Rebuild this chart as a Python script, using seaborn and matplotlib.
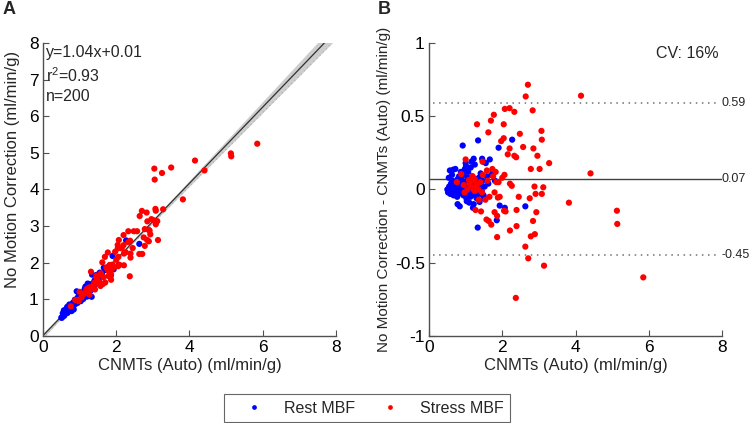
import numpy as np
import pandas as pd
import matplotlib
matplotlib.use("Agg")
import matplotlib.pyplot as plt
import seaborn as sns
from matplotlib.lines import Line2D

# ---------------- data ----------------
rest_auto = [0.50, 0.52, 0.55, 0.57, 0.58, 0.60, 0.62, 0.64, 0.66, 0.67,
             0.68, 0.70, 0.72, 0.72, 0.74, 0.75, 0.77, 0.78, 0.78, 0.80,
             0.81, 0.82, 0.84, 0.85, 0.86, 0.88, 0.89, 0.90, 0.92, 0.92,
             0.94, 0.95, 0.96, 0.98, 0.98, 1.00, 1.00, 1.01, 1.02, 1.03,
             1.04, 1.05, 1.06, 1.08, 1.10, 1.10, 1.12, 1.13, 1.15, 1.16,
             1.17, 1.18, 1.20, 1.20, 1.22, 1.22, 1.23, 1.25, 1.25, 1.26,
             1.28, 1.29, 1.30, 1.31, 1.33, 1.33, 1.34, 1.35, 1.36, 1.37,
             1.38, 1.39, 1.40, 1.41, 1.42, 1.44, 1.45, 1.46, 1.48, 1.49,
             1.50, 1.52, 1.55, 1.58, 1.62, 1.66, 1.70, 1.75, 1.80, 1.85,
             1.90, 1.93, 2.07, 2.27, 2.63, 0.54, 0.63, 0.87, 1.07, 1.14]
rest_diff = [0.00, -0.02, 0.02, 0.13, -0.03, 0.04, -0.01, 0.06, 0.135, -0.04,
             0.01, 0.03, 0.14, -0.02, 0.05, 0.00, -0.05, -0.10, 0.07, 0.02,
             -0.03, 0.09, -0.115, 0.04, 0.00, 0.08, -0.01, 0.06, 0.30, 0.02,
             -0.04, 0.10, 0.03, 0.14, -0.02, 0.18, 0.05, 0.16, -0.06, -0.08,
             0.01, 0.08, -0.03, 0.04, -0.09, 0.00, 0.06, -0.05, 0.02, 0.19,
             -0.02, 0.09, -0.125, 0.03, 0.21, -0.10, 0.00, 0.17, 0.05, -0.04,
             0.07, 0.01, -0.06, 0.04, -0.26, 0.02, 0.335, -0.02, 0.08, 0.00,
             -0.085, 0.05, -0.03, 0.11, 0.03, -0.01, 0.21, 0.06, 0.19, -0.04,
             -0.06, 0.02, 0.18, 0.09, 0.04, 0.205, 0.10, 0.12, 0.06, -0.21,
             0.285, -0.11, -0.125, 0.34, -0.115, 0.08, 0.10, 0.12, 0.12, 0.15]

stress_auto = [2.70, 2.64, 4.15, 2.83, 2.07, 2.20, 2.33, 1.77, 1.69, 1.31,
               2.04, 1.62, 3.07, 2.48, 2.04, 1.97, 3.08, 2.57, 2.20, 2.85,
               2.15, 2.33, 2.38, 2.96, 3.28, 2.78, 3.02, 4.41, 1.00, 1.46,
               1.73, 1.82, 1.58, 1.47, 1.19, 1.75, 2.06, 2.00, 1.84, 1.90,
               0.88, 0.76, 1.09, 2.21, 2.26, 2.88, 3.12, 1.22, 1.25, 1.79,
               2.91, 3.08, 1.88, 1.93, 2.75, 0.97, 1.36, 1.54, 3.82, 1.27,
               1.42, 1.79, 2.05, 2.09, 2.39, 2.93, 1.86, 1.57, 1.63, 1.70,
               2.84, 2.39, 2.21, 2.89, 2.78, 1.86, 2.63, 2.71, 3.14, 5.85,
               2.37, 5.13, 5.14, 3.04, 3.05, 3.25, 3.50, 1.10, 1.15, 1.20,
               1.30, 1.05, 0.95, 1.25, 1.35, 1.40, 1.45, 1.60, 1.65, 2.45]
stress_diff = [0.715, 0.635, 0.64, 0.54, 0.55, 0.555, 0.53, 0.51, 0.47, 0.445,
               0.445, 0.39, 0.40, 0.38, 0.35, 0.33, 0.34, 0.29, 0.28, 0.28,
               0.24, 0.23, 0.22, 0.23, 0.18, 0.14, 0.14, 0.11, 0.205, 0.19,
               0.14, 0.12, 0.13, 0.10, 0.09, 0.09, 0.10, 0.08, 0.05, 0.05,
               0.105, 0.05, 0.065, 0.04, 0.025, 0.02, 0.015, 0.00, -0.01, -0.02,
               -0.03, -0.03, -0.055, -0.05, -0.06, -0.02, -0.07, -0.07, -0.09, -0.14,
               -0.15, -0.155, -0.145, -0.15, -0.14, -0.155, -0.18, -0.205, -0.215, -0.24,
               -0.215, -0.25, -0.28, -0.305, -0.32, -0.325, -0.39, -0.47, -0.52, -0.60,
               -0.74, -0.145, -0.235, 1.53, 1.22, 1.20, 1.10, 0.04, 0.02, 0.06,
               0.03, 0.00, 0.03, 0.07, 0.00, 0.05, -0.02, 0.06, -0.05, -0.05]

group_names = ["Rest MBF", "Stress MBF"]
group_colors = {"Rest MBF": "#0000ff", "Stress MBF": "#ff0000"}

fit_slope, fit_intercept = 1.04, 0.01
fit_text = ["y=1.04x+0.01", "r$^2$=0.93", "n=200"]
ba_bias, ba_upper, ba_lower = 0.07, 0.59, -0.45
ba_labels = ["0.07", "0.59", "-0.45"]
cv_text = "CV: 16%"

x_label = "CNMTs (Auto) (ml/min/g)"
ya_label = "No Motion Correction (ml/min/g)"
yb_label = "No Motion Correction - CNMTs (Auto) (ml/min/g)"

# ---------------- build table ----------------
df = pd.DataFrame({
    "auto": rest_auto + stress_auto,
    "diff": rest_diff + stress_diff,
    "group": [group_names[0]] * len(rest_auto) + [group_names[1]] * len(stress_auto),
})
df["nomc"] = df["auto"] + df["diff"]

# ---------------- style ----------------
sns.set_theme(style="white")
plt.rcParams["font.family"] = ["Liberation Sans", "DejaVu Sans"]
plt.rcParams["mathtext.fontset"] = "custom"
plt.rcParams["mathtext.rm"] = "Liberation Sans"

fig = plt.figure(figsize=(7.5, 4.23), dpi=100)
axA = fig.add_axes([0.0573, 0.2057, 0.3907, 0.6927])
axB = fig.add_axes([0.5720, 0.2057, 0.3907, 0.6927])

spine_col = "#505050"
for ax in (axA, axB):
    for s in ("top", "right"):
        ax.spines[s].set_visible(False)
    for s in ("left", "bottom"):
        ax.spines[s].set_color(spine_col)
        ax.spines[s].set_linewidth(1.0)
    ax.tick_params(axis="both", which="both", direction="in", length=4,
                   width=0.8, color=spine_col, labelsize=12.5, labelcolor="black",
                   left=True, bottom=True, pad=3)

# ---------------- panel A ----------------
xs = np.linspace(0, 7.9, 80)
ys = fit_slope * xs + fit_intercept
hw = np.sqrt(0.025 ** 2 + (0.036 * (xs - 1.8)) ** 2)
axA.fill_between(xs, ys - hw, ys + hw, color="#cdcdcd", lw=0, zorder=1)
axA.plot(xs, ys - hw, color="#b0b0b0", lw=0.8, ls=(0, (1, 3)), zorder=1.5)
axA.plot(xs, ys, color="#303030", lw=0.9, zorder=2)

sns.scatterplot(data=df, x="auto", y="nomc", hue="group", palette=group_colors,
                hue_order=group_names, s=20, linewidth=0, ax=axA, legend=False,
                zorder=3)
axA.set_xlim(0, 8)
axA.set_ylim(0, 8)
axA.set_xticks([0, 2, 4, 6, 8])
axA.set_yticks(range(0, 9))
axA.set_xlabel(x_label, fontsize=12, labelpad=2)
axA.set_ylabel(ya_label, fontsize=12)
axA.yaxis.set_label_coords(-0.08, 0.57)
for t, yv in zip(fit_text, [7.74, 7.1, 6.55]):
    axA.text(0.07, yv, t, fontsize=11.5, va="center", ha="left")

# ---------------- panel B ----------------
sns.scatterplot(data=df, x="auto", y="diff", hue="group", palette=group_colors,
                hue_order=group_names, s=20, linewidth=0, ax=axB, legend=False,
                zorder=3)
axB.plot([0, 8], [ba_bias, ba_bias], color="#404040", lw=1.0, zorder=2)
for v in (ba_upper, ba_lower):
    axB.plot([0.1, 7.95], [v, v], color="#707070", lw=1.1, ls=(0, (1, 3)), zorder=2)
for v, lab in zip((ba_bias, ba_upper, ba_lower), ba_labels):
    axB.text(7.98, v, lab, fontsize=9, va="center", ha="left", clip_on=False)
axB.text(7.9, 0.93, cv_text, fontsize=11.5, va="center", ha="right")
axB.set_xlim(0, 8)
axB.set_ylim(-1, 1)
axB.set_xticks([0, 2, 4, 6, 8])
axB.set_yticks([-1, -0.5, 0, 0.5, 1])
axB.set_yticklabels(["-1", "-0.5", "0", "0.5", "1"])
axB.set_xlabel(x_label, fontsize=12, labelpad=2)
axB.set_ylabel(yb_label, fontsize=11, labelpad=3)

# ---------------- panel letters ----------------
fig.text(0.003, 0.997, "A", fontsize=13, fontweight="bold", va="top", ha="left")
fig.text(0.504, 0.997, "B", fontsize=13, fontweight="bold", va="top", ha="left")

# ---------------- legend ----------------
handles = [Line2D([], [], ls="", marker="o", markersize=3.4, markeredgewidth=0,
                  color=group_colors[g]) for g in group_names]
leg = fig.legend(handles, group_names, loc="center", bbox_to_anchor=(0.489, 0.035),
                 ncol=2, frameon=True, fancybox=False, fontsize=11.5,
                 handlelength=3.0, handletextpad=0.35, columnspacing=0.7,
                 borderpad=0.4, borderaxespad=0, edgecolor="#404040")
leg.get_frame().set_linewidth(0.8)

fig.savefig("out.png", dpi=100)
